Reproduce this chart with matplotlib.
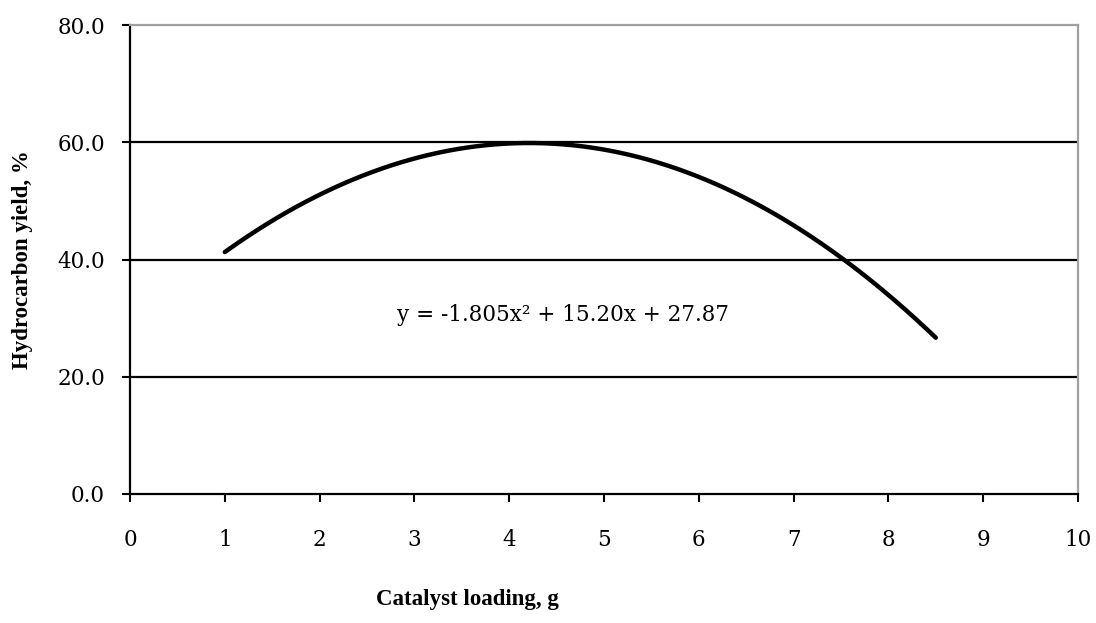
import numpy as np
import matplotlib
matplotlib.use("Agg")
import matplotlib.pyplot as plt

# Quadratic trendline fitted to the yield data: y = a*x^2 + b*x + c
coef_a = -1.805
coef_b = 15.20
coef_c = 27.87
x_start = 1.0
x_end = 8.5

x_ticks = [0, 1, 2, 3, 4, 5, 6, 7, 8, 9, 10]
y_ticks = [0, 20, 40, 60, 80]
y_tick_labels = ["0.0", "20.0", "40.0", "60.0", "80.0"]

plt.rcParams['font.family'] = ['DejaVu Serif']

fig = plt.figure(figsize=(10.96, 6.23), dpi=100)
ax = fig.add_axes([130 / 1096, 1 - 494 / 623, 948 / 1096, 469 / 623])

x = np.linspace(x_start, x_end, 300)
y = np.polyval([coef_a, coef_b, coef_c], x)
ax.plot(x, y, color='black', linewidth=3.2, solid_capstyle='round', zorder=3)

for gy in y_ticks[1:-1]:
    ax.axhline(gy, color='black', linewidth=1.6, zorder=1)

ax.set_xlim(0, 10)
ax.set_ylim(0, 80)
ax.set_xticks(x_ticks)
ax.set_yticks(y_ticks)
ax.set_yticklabels(y_tick_labels)
ax.tick_params(axis='both', direction='out', length=6, width=1.5,
               labelsize=15.5, color='black')
ax.tick_params(axis='x', pad=19)
ax.tick_params(axis='y', pad=12)

for side in ['left', 'bottom']:
    ax.spines[side].set_color('black')
    ax.spines[side].set_linewidth(1.6)
for side in ['top', 'right']:
    ax.spines[side].set_color('#a0a0a0')
    ax.spines[side].set_linewidth(1.6)

ax.text(397 / 1096, 1 - 315 / 623,
        "y = -1.805x\u00b2 + 15.20x + 27.87",
        transform=fig.transFigure, fontsize=15.5, va='center', ha='left')

label_font = dict(family='Liberation Serif', fontsize=16.5, fontweight='bold')
fig.text(23 / 1096, 1 - 260 / 623, "Hydrocarbon yield, %", rotation=90,
         ha='center', va='center', **label_font)
fig.text(467 / 1096, 1 - 600 / 623, "Catalyst loading, g",
         ha='center', va='center', **label_font)

fig.savefig("out.png", dpi=100)
